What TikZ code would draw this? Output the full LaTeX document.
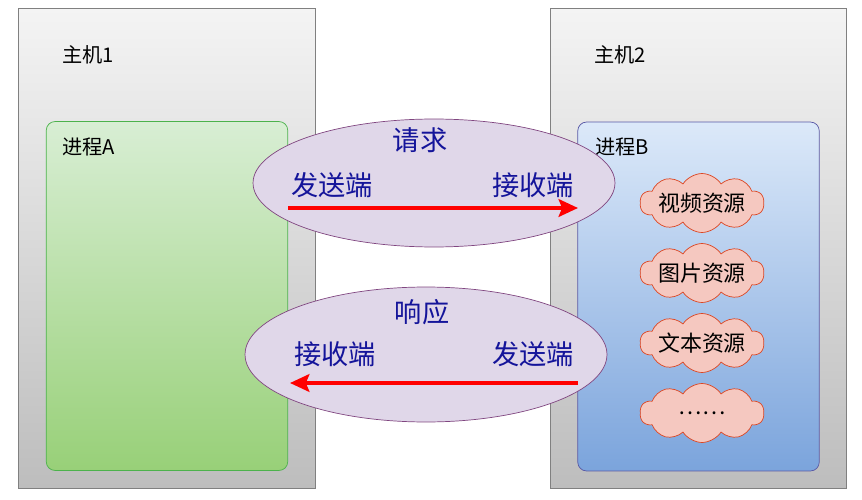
\documentclass[tikz,border=0pt]{standalone}
\usepackage{fontspec}
\setmainfont{Noto Sans CJK SC}
\usepackage{xcolor}
\usetikzlibrary{arrows.meta,shapes.geometric,shapes.symbols}

\definecolor{hostTop}{HTML}{F4F4F4}
\definecolor{hostBot}{HTML}{BDBDBD}
\definecolor{greenTop}{HTML}{D8EED4}
\definecolor{greenBot}{HTML}{98D078}
\definecolor{blueTop}{HTML}{DCE9F9}
\definecolor{blueBot}{HTML}{7BA4DC}
\definecolor{lilac}{HTML}{E0D7E9}
\definecolor{navy}{HTML}{14149A}
\definecolor{pinkc}{HTML}{F5C8C0}

\tikzset{
  host/.style={rectangle,draw=black!50,top color=hostTop,bottom color=hostBot,minimum width=5.93cm,minimum height=9.6cm},
  proc/.style={rectangle,rounded corners=5pt,minimum width=4.83cm,minimum height=6.98cm},
  chan/.style={ellipse,draw=violet!45!gray,fill=lilac,minimum width=7.24cm},
  lbl/.style={anchor=west,font=\fontsize{11.5}{14}\selectfont},
  side/.style={text=navy,font=\fontsize{15.5}{18}\selectfont},
  res/.style={cloud,cloud puffs=10,cloud puff arc=115,draw=red!45!brown,fill=pinkc,minimum width=2.48cm,minimum height=1.18cm,inner sep=0pt},
  restxt/.style={font=\fontsize{12.5}{15}\selectfont},
  msg/.style={draw=red,line width=2.4pt,-{Stealth[length=11pt,width=10pt,inset=2pt]}}
}

\begin{document}
\begin{tikzpicture}[x=0.02cm,y=-0.02cm]
  \useasboundingbox (0,0) rectangle (862,500);
  % hosts and processes
  \node[host] (h1) at (167,248){};
  \node[host] (h2) at (698.5,248){};
  \node[proc,draw=green!40!gray,top color=greenTop,bottom color=greenBot] (pa) at (167,296){};
  \node[proc,draw=blue!30!gray,top color=blueTop,bottom color=blueBot] (pb) at (698.5,296.5){};
  \node[lbl] (h1t) at (56,55){主机1};
  \node[lbl] (h2t) at (588,55){主机2};
  \node[lbl] (pat) at (56,147){进程A};
  \node[lbl] (pbt) at (589,147){进程B};
  % request / response
  \node[chan,minimum height=2.56cm] (req) at (434,183){};
  \node[chan,minimum height=2.7cm] (resp) at (426,354.5){};
  \node[side] (reqt) at (420,140){请求};
  \node[side] (s1) at (332,185){发送端};
  \node[side] (r1) at (533,185){接收端};
  \node[side] (respt) at (422,312){响应};
  \node[side] (r2) at (335,354){接收端};
  \node[side] (s2) at (533,354){发送端};
  \coordinate (a1) at (288,208);
  \coordinate (b1) at (578,208);
  \coordinate (a2) at (578,383);
  \coordinate (b2) at (290,383);
     \draw[msg] (a1) -- (b1);
     \draw[msg] (a2) -- (b2);
  % resources
  \node[res] (v) at (702,203){};
  \node[res] (p) at (702,273){};
  \node[res] (t) at (702,343){};
  \node[res] (o) at (702,413){};
  \node[restxt] (vt) at (v){视频资源};
  \node[restxt] (pt) at (p){图片资源};
  \node[restxt] (tt) at (t){文本资源};
  \node[restxt] (ot) at (o){……};
\end{tikzpicture}
\end{document}
